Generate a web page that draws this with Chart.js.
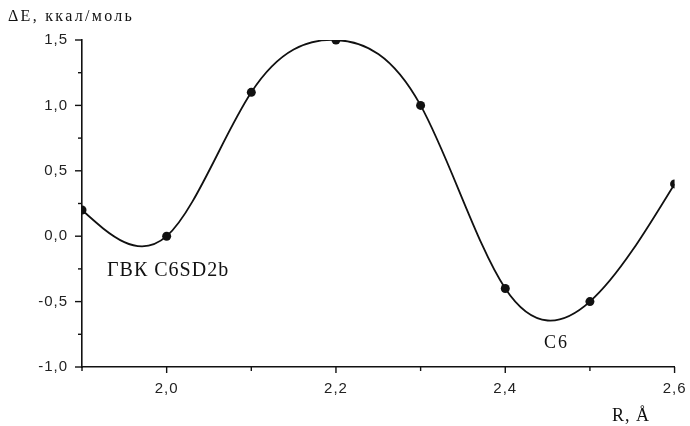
<!DOCTYPE html>
<html>
<head>
<meta charset="utf-8">
<script src="https://cdn.jsdelivr.net/npm/chart.js@4"></script>
<style>
  body { margin: 0; background: #fff; }
  #wrap { position: relative; width: 690px; height: 426px; }
  .lbl { position: absolute; font-family: "Liberation Serif", serif; color: #111; white-space: nowrap; line-height: 1; }
</style>
</head>
<body>
<div id="wrap">
  <canvas id="chart" width="690" height="426"></canvas>
  <div class="lbl" style="left:8px;top:8px;font-size:16px;letter-spacing:2.3px;">ΔE, ккал/моль</div>
  <div class="lbl" style="left:612px;top:406px;font-size:18px;letter-spacing:1px;">R, Å</div>
  <div class="lbl" style="left:107px;top:259px;font-size:20px;letter-spacing:1px;">ГВК C6SD2b</div>
  <div class="lbl" style="left:544px;top:333px;font-size:18px;letter-spacing:2px;">C6</div>
</div>
<script>
// расстояние R, Å
let rValues = [1.9, 2.0, 2.1, 2.2, 2.3, 2.4, 2.5, 2.6];
// энергия ΔE, ккал/моль
let eValues = [0.2, 0.0, 1.1, 1.5, 1.0, -0.4, -0.5, 0.4];

let xLabeled = [2.0, 2.2, 2.4, 2.6];
let yLabeled = [1.5, 1.0, 0.5, 0.0, -0.5, -1.0];

const fmt = v => v.toFixed(1).replace('.', ',');
const isIn = (arr, v) => arr.some(t => Math.abs(t - v) < 1e-6);

// наклоны натурального кубического сплайна в узлах (форма кривой, как в оригинале)
function splineSlopes(xs, ys) {
    const n = xs.length;
    const h = [];
    for (let i = 0; i < n - 1; i++) h.push(xs[i + 1] - xs[i]);
    const M = new Array(n).fill(0);
    const a = [], b = [], c = [], d = [];
    for (let i = 1; i < n - 1; i++) {
        a.push(h[i - 1]);
        b.push(2 * (h[i - 1] + h[i]));
        c.push(h[i]);
        d.push(6 * ((ys[i + 1] - ys[i]) / h[i] - (ys[i] - ys[i - 1]) / h[i - 1]));
    }
    const m = b.length;
    for (let i = 1; i < m; i++) {          // прогонка
        const w = a[i] / b[i - 1];
        b[i] -= w * c[i - 1];
        d[i] -= w * d[i - 1];
    }
    for (let i = m - 1; i >= 0; i--) {
        M[i + 1] = (d[i] - (i < m - 1 ? c[i] * M[i + 2] : 0)) / b[i];
    }
    const slopes = [];
    for (let i = 0; i < n; i++) {
        if (i < n - 1) slopes.push((ys[i + 1] - ys[i]) / h[i] - h[i] * (2 * M[i] + M[i + 1]) / 6);
        else slopes.push((ys[i] - ys[i - 1]) / h[i - 1] + h[i - 1] * (M[i - 1] + 2 * M[i]) / 6);
    }
    return slopes;
}

const ctx = document.getElementById('chart').getContext('2d');

new Chart(ctx, {
    type: 'scatter',
    data: {
        datasets: [{
            data: rValues.map((r, i) => ({ x: r, y: eValues[i] })),
            showLine: true,
            tension: 0.4,
            borderColor: '#111',
            borderWidth: 1.8,
            backgroundColor: '#111',
            pointRadius: 4.5,
            pointBorderWidth: 0
        }]
    },
    options: {
        responsive: false,
        animation: false,
        layout: { padding: { top: 40, right: 15, left: 0, bottom: 0 } },
        plugins: { legend: { display: false }, tooltip: { enabled: false } },
        scales: {
            x: {
                type: 'linear',
                min: 1.9, max: 2.6,
                afterBuildTicks: axis => {
                    axis.ticks = [];
                    for (let i = 0; i <= 7; i++) axis.ticks.push({ value: 1.9 + i * 0.1 });
                },
                afterFit: axis => { axis.height = 59; },
                grid: { display: false },
                border: { display: true, color: '#111', width: 1.6 },
                ticks: {
                    color: '#222',
                    font: { family: 'Liberation Sans', size: 15 },
                    maxRotation: 0,
                    autoSkip: false,
                    padding: 5,
                    callback: v => isIn(xLabeled, v) ? fmt(v) : ''
                }
            },
            y: {
                min: -1.0, max: 1.5,
                afterBuildTicks: axis => {
                    axis.ticks = [];
                    for (let i = 0; i <= 10; i++) axis.ticks.push({ value: -1.0 + i * 0.25 });
                },
                afterFit: axis => { axis.width = 82; },
                grid: { display: false },
                border: { display: true, color: '#111', width: 1.6 },
                ticks: {
                    color: '#222',
                    font: { family: 'Liberation Sans', size: 15 },
                    autoSkip: false,
                    padding: 6,
                    callback: v => isIn(yLabeled, v) ? fmt(v) : ''
                }
            }
        }
    },
    plugins: [{
        id: 'naturalSpline',
        beforeDatasetsDraw(chart) {
            const meta = chart.getDatasetMeta(0);
            const xs = chart.scales.x, ys = chart.scales.y;
            meta.dataset.updateControlPoints(chart.chartArea, 'x');
            const slopes = splineSlopes(rValues, eValues);
            const k = (ys.getPixelForValue(1) - ys.getPixelForValue(0)) /
                      (xs.getPixelForValue(1) - xs.getPixelForValue(0));
            const pts = meta.data;
            pts.forEach((p, i) => {
                const s = slopes[i] * k;
                const hp = i > 0 ? (p.x - pts[i - 1].x) / 3 : 0;
                const hn = i < pts.length - 1 ? (pts[i + 1].x - p.x) / 3 : 0;
                p.cp1x = p.x - hp; p.cp1y = p.y - s * hp;
                p.cp2x = p.x + hn; p.cp2y = p.y + s * hn;
            });
        }
    }, {
        id: 'tickMarks',
        beforeDraw(chart) {
            chart.ctx.letterSpacing = '1px';
        },
        afterDraw(chart) {
            const c = chart.ctx, xs = chart.scales.x, ys = chart.scales.y;
            c.save();
            c.strokeStyle = '#111';
            c.lineWidth = 1.4;
            xs.ticks.forEach(t => {
                const px = xs.getPixelForValue(t.value);
                c.beginPath();
                c.moveTo(px, ys.bottom);
                c.lineTo(px, ys.bottom + (isIn(xLabeled, t.value) ? 6 : 4));
                c.stroke();
            });
            ys.ticks.forEach(t => {
                const py = ys.getPixelForValue(t.value);
                c.beginPath();
                c.moveTo(xs.left, py);
                c.lineTo(xs.left - (isIn(yLabeled, t.value) ? 7 : 4), py);
                c.stroke();
            });
            c.restore();
        }
    }]
});
</script>
</body>
</html>
